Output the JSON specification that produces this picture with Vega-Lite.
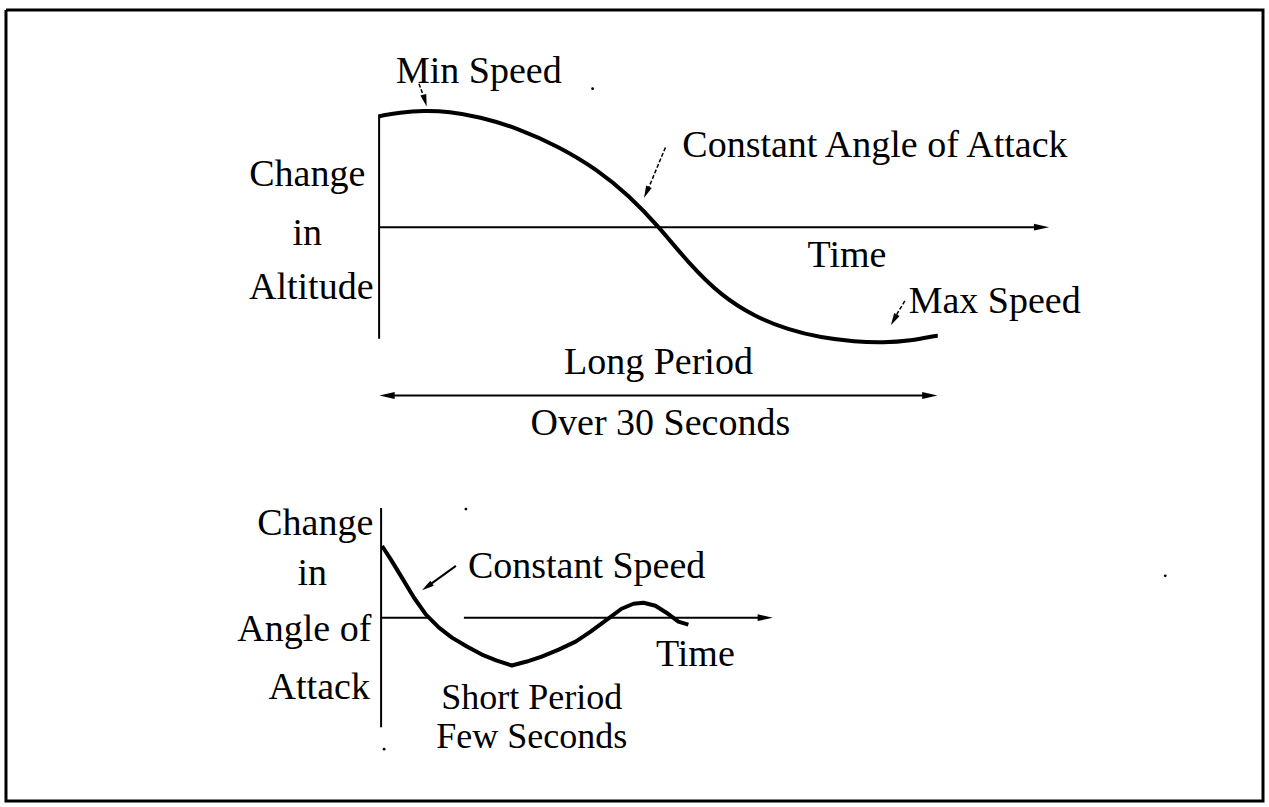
{
  "$schema": "https://vega.github.io/schema/vega-lite/v6.json",
  "width": 1269,
  "height": 807,
  "autosize": {"type": "fit", "contains": "padding"},
  "padding": 0,
  "background": "white",
  "config": {"view": {"stroke": null}},
  "datasets": {
    "border": [
      {"i": 0, "x": 6, "y": 10}, {"i": 1, "x": 1266, "y": 10}, {"i": 2, "x": 1266, "y": 804},
      {"i": 3, "x": 6, "y": 804}, {"i": 4, "x": 6, "y": 10}
    ],
    "axes": [
      {"id": "top_y", "i": 0, "x": 380, "y": 115}, {"id": "top_y", "i": 1, "x": 380, "y": 340},
      {"id": "top_x", "i": 0, "x": 380, "y": 228}, {"id": "top_x", "i": 1, "x": 1040, "y": 228},
      {"id": "long", "i": 0, "x": 386, "y": 397}, {"id": "long", "i": 1, "x": 934, "y": 397},
      {"id": "bot_y", "i": 0, "x": 382, "y": 510}, {"id": "bot_y", "i": 1, "x": 382, "y": 730},
      {"id": "bot_x1", "i": 0, "x": 382, "y": 620}, {"id": "bot_x1", "i": 1, "x": 430, "y": 620},
      {"id": "bot_x2", "i": 0, "x": 465, "y": 620}, {"id": "bot_x2", "i": 1, "x": 764, "y": 620}
    ],
    "long_curve": [
      {"x": 380, "y": 117}, {"x": 382, "y": 116}, {"x": 400, "y": 113}, {"x": 425, "y": 111},
      {"x": 450, "y": 112}, {"x": 480, "y": 117}, {"x": 520, "y": 129}, {"x": 560, "y": 147},
      {"x": 600, "y": 171}, {"x": 630, "y": 196}, {"x": 660, "y": 227}, {"x": 690, "y": 264},
      {"x": 723, "y": 297}, {"x": 757, "y": 318}, {"x": 790, "y": 331}, {"x": 823, "y": 339},
      {"x": 857, "y": 343}, {"x": 885, "y": 344}, {"x": 913, "y": 342}, {"x": 938, "y": 337},
      {"x": 940, "y": 337}
    ],
    "short_curve": [
      {"x": 383, "y": 548}, {"x": 392, "y": 562}, {"x": 403, "y": 580}, {"x": 415, "y": 600},
      {"x": 427, "y": 617}, {"x": 440, "y": 630}, {"x": 453, "y": 640}, {"x": 468, "y": 649},
      {"x": 483, "y": 657}, {"x": 498, "y": 663}, {"x": 513, "y": 668}, {"x": 528, "y": 664},
      {"x": 543, "y": 659}, {"x": 560, "y": 652}, {"x": 577, "y": 644}, {"x": 592, "y": 634},
      {"x": 607, "y": 623}, {"x": 623, "y": 611}, {"x": 635, "y": 606}, {"x": 645, "y": 605},
      {"x": 657, "y": 608}, {"x": 668, "y": 615}, {"x": 680, "y": 624}, {"x": 690, "y": 627}
    ],
    "big_heads": [
      {"x": 1044, "y": 228, "heading": 90},
      {"x": 388, "y": 397, "heading": 270},
      {"x": 932, "y": 397, "heading": 90},
      {"x": 767, "y": 620, "heading": 90}
    ],
    "small_heads": [
      {"x": 426, "y": 101, "heading": 164},
      {"x": 648, "y": 193, "heading": 204},
      {"x": 896, "y": 321, "heading": 209},
      {"x": 428, "y": 589, "heading": 235}
    ],
    "dashed_leaders": [
      {"id": "min", "i": 0, "x": 420, "y": 84}, {"id": "min", "i": 1, "x": 425, "y": 98},
      {"id": "caoa", "i": 0, "x": 667, "y": 148}, {"id": "caoa", "i": 1, "x": 650, "y": 189},
      {"id": "max", "i": 0, "x": 907, "y": 302}, {"id": "max", "i": 1, "x": 898, "y": 317}
    ],
    "solid_leaders": [
      {"id": "cs", "i": 0, "x": 457, "y": 568}, {"id": "cs", "i": 1, "x": 432, "y": 586}
    ],
    "labels": [
      {"x": 480, "y": 83, "label": "Min Speed"},
      {"x": 877, "y": 158, "label": "Constant Angle of Attack"},
      {"x": 308, "y": 187, "label": "Change"},
      {"x": 308, "y": 246, "label": "in"},
      {"x": 312, "y": 300, "label": "Altitude"},
      {"x": 849, "y": 268, "label": "Time"},
      {"x": 997, "y": 314, "label": "Max Speed"},
      {"x": 660, "y": 375, "label": "Long Period"},
      {"x": 662, "y": 437, "label": "Over 30 Seconds"},
      {"x": 316, "y": 537, "label": "Change"},
      {"x": 313, "y": 587, "label": "in"},
      {"x": 305, "y": 643, "label": "Angle of"},
      {"x": 320, "y": 702, "label": "Attack"},
      {"x": 588, "y": 580, "label": "Constant Speed"},
      {"x": 697, "y": 668, "label": "Time"}
    ],
    "period_labels": [
      {"x": 533, "y": 712, "label": "Short Period"},
      {"x": 533, "y": 751, "label": "Few Seconds"}
    ],
    "specks": [
      {"x": 467, "y": 511}, {"x": 1168, "y": 578}, {"x": 385, "y": 752}, {"x": 594, "y": 89}
    ]
  },
  "layer": [
    {
      "data": {"name": "border"},
      "mark": {"type": "line", "color": "black", "strokeWidth": 3},
      "encoding": {
        "x": {"field": "x", "type": "quantitative", "scale": {"domain": [0, 1269], "nice": false, "zero": false}, "axis": null},
        "y": {"field": "y", "type": "quantitative", "scale": {"domain": [0, 807], "nice": false, "zero": false, "reverse": true}, "axis": null},
        "order": {"field": "i", "type": "quantitative"}
      }
    },
    {
      "data": {"name": "axes"},
      "mark": {"type": "line", "color": "black", "strokeWidth": 2},
      "encoding": {
        "x": {"field": "x", "type": "quantitative"},
        "y": {"field": "y", "type": "quantitative"},
        "detail": {"field": "id", "type": "nominal"},
        "order": {"field": "i", "type": "quantitative"}
      }
    },
    {
      "data": {"name": "long_curve"},
      "mark": {"type": "line", "color": "black", "strokeWidth": 4, "interpolate": "basis"},
      "encoding": {
        "x": {"field": "x", "type": "quantitative"},
        "y": {"field": "y", "type": "quantitative"}
      }
    },
    {
      "data": {"name": "short_curve"},
      "mark": {"type": "line", "color": "black", "strokeWidth": 4, "interpolate": "linear", "strokeJoin": "round"},
      "encoding": {
        "x": {"field": "x", "type": "quantitative"},
        "y": {"field": "y", "type": "quantitative"}
      }
    },
    {
      "data": {"name": "dashed_leaders"},
      "mark": {"type": "line", "color": "black", "strokeWidth": 1.5, "strokeDash": [4, 2]},
      "encoding": {
        "x": {"field": "x", "type": "quantitative"},
        "y": {"field": "y", "type": "quantitative"},
        "detail": {"field": "id", "type": "nominal"},
        "order": {"field": "i", "type": "quantitative"}
      }
    },
    {
      "data": {"name": "solid_leaders"},
      "mark": {"type": "line", "color": "black", "strokeWidth": 2},
      "encoding": {
        "x": {"field": "x", "type": "quantitative"},
        "y": {"field": "y", "type": "quantitative"},
        "detail": {"field": "id", "type": "nominal"},
        "order": {"field": "i", "type": "quantitative"}
      }
    },
    {
      "data": {"name": "big_heads"},
      "mark": {"type": "point", "shape": "M0,-1L0.45,1L-0.45,1Z", "filled": true, "color": "black", "opacity": 1, "size": 230, "strokeWidth": 0},
      "encoding": {
        "x": {"field": "x", "type": "quantitative"},
        "y": {"field": "y", "type": "quantitative"},
        "angle": {"field": "heading", "type": "quantitative", "scale": null}
      }
    },
    {
      "data": {"name": "small_heads"},
      "mark": {"type": "point", "shape": "M0,-1L0.5,1L-0.5,1Z", "filled": true, "color": "black", "opacity": 1, "size": 150, "strokeWidth": 0},
      "encoding": {
        "x": {"field": "x", "type": "quantitative"},
        "y": {"field": "y", "type": "quantitative"},
        "angle": {"field": "heading", "type": "quantitative", "scale": null}
      }
    },
    {
      "data": {"name": "specks"},
      "mark": {"type": "point", "shape": "circle", "filled": true, "color": "black", "opacity": 1, "size": 8},
      "encoding": {
        "x": {"field": "x", "type": "quantitative"},
        "y": {"field": "y", "type": "quantitative"}
      }
    },
    {
      "data": {"name": "labels"},
      "mark": {"type": "text", "font": "Liberation Serif", "fontSize": 38, "align": "center", "baseline": "alphabetic", "color": "black"},
      "encoding": {
        "x": {"field": "x", "type": "quantitative"},
        "y": {"field": "y", "type": "quantitative"},
        "text": {"field": "label", "type": "nominal"}
      }
    },
    {
      "data": {"name": "period_labels"},
      "mark": {"type": "text", "font": "Liberation Serif", "fontSize": 36, "align": "center", "baseline": "alphabetic", "color": "black"},
      "encoding": {
        "x": {"field": "x", "type": "quantitative"},
        "y": {"field": "y", "type": "quantitative"},
        "text": {"field": "label", "type": "nominal"}
      }
    }
  ]
}
